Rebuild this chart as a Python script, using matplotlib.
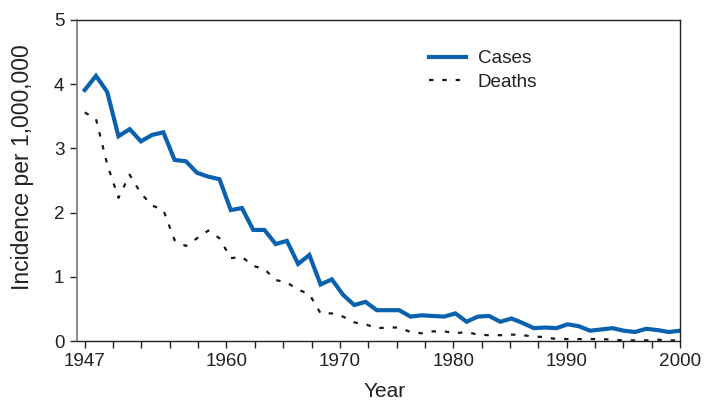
import numpy as np
import matplotlib
matplotlib.use("Agg")
import matplotlib.pyplot as plt

years = list(range(1947, 2001))
cases = [3.91, 4.13, 3.88, 3.19, 3.30, 3.11, 3.21, 3.25, 2.82, 2.80, 2.62, 2.56, 2.52,
         2.04, 2.07, 1.73, 1.73, 1.51, 1.56, 1.20, 1.34, 0.88, 0.96,
         0.72, 0.56, 0.61, 0.48, 0.48, 0.48, 0.38, 0.40, 0.39, 0.38,
         0.43, 0.30, 0.38, 0.39, 0.30, 0.35, 0.28, 0.20, 0.21, 0.20,
         0.26, 0.23, 0.16, 0.18, 0.20, 0.16, 0.14, 0.19, 0.17, 0.14, 0.16]
deaths = [3.56, 3.46, 2.75, 2.23, 2.59, 2.30, 2.11, 2.04, 1.57, 1.48, 1.60, 1.72, 1.60,
          1.29, 1.31, 1.17, 1.12, 0.95, 0.91, 0.80, 0.73, 0.43, 0.43,
          0.38, 0.29, 0.26, 0.20, 0.21, 0.21, 0.14, 0.12, 0.15, 0.15,
          0.12, 0.14, 0.10, 0.09, 0.09, 0.10, 0.09, 0.07, 0.06, 0.03,
          0.03, 0.03, 0.03, 0.03, 0.02, 0.01, 0.01, 0.01, 0.02, 0.01, 0.01]
x_labels = ["1947", "1960", "1970", "1980", "1990", "2000"]
y_ticks = [0, 1, 2, 3, 4, 5]

plt.rcParams['font.family'] = ['Liberation Sans', 'DejaVu Sans']

fig = plt.figure(figsize=(7.12, 4.0), dpi=100)
ax = fig.add_axes([0.108, 0.1475, 0.847, 0.8025])

ax.plot(years, cases, color='#0a62ae', lw=3.0, label='Cases', solid_joinstyle='miter')
ax.plot(years, deaths, color='#1a1a1a', lw=1.6, dashes=(2, 4), label='Deaths')

ax.set_xlim(1946.3, 2000)
ax.set_ylim(0, 5)

tick_pos = np.linspace(years[0], years[-1], 22)
ax.set_xticks(tick_pos)
lbl_idx = {0: x_labels[0], 5: x_labels[1], 9: x_labels[2], 13: x_labels[3], 17: x_labels[4], 21: x_labels[5]}
ax.set_xticklabels([lbl_idx.get(i, "") for i in range(len(tick_pos))])
ax.set_yticks(y_ticks)

ax.tick_params(axis='both', direction='out', length=5, width=1, labelsize=13.6,
               colors='#222222', pad=4)
for s in ['top', 'right', 'bottom']:
    ax.spines[s].set_color('#222222')
    ax.spines[s].set_linewidth(1.0)
ax.spines['left'].set_color('#808080')
ax.spines['left'].set_linewidth(1.3)

ax.set_xlabel('Year', fontsize=15, color='#222222', va='center')
ax.xaxis.set_label_coords(0.511, -0.156)
ax.set_ylabel('Incidence per 1,000,000', fontsize=16.5, color='#222222', va='center')
ax.yaxis.set_label_coords(-0.091, 0.542)

leg = ax.legend(loc='upper left', bbox_to_anchor=(0.572, 0.93), frameon=False,
                fontsize=13.6, handlelength=1.95, handletextpad=0.6,
                labelspacing=0.32, borderaxespad=0)
for t in leg.get_texts():
    t.set_color('#222222')

fig.savefig('out.png', dpi=100)
